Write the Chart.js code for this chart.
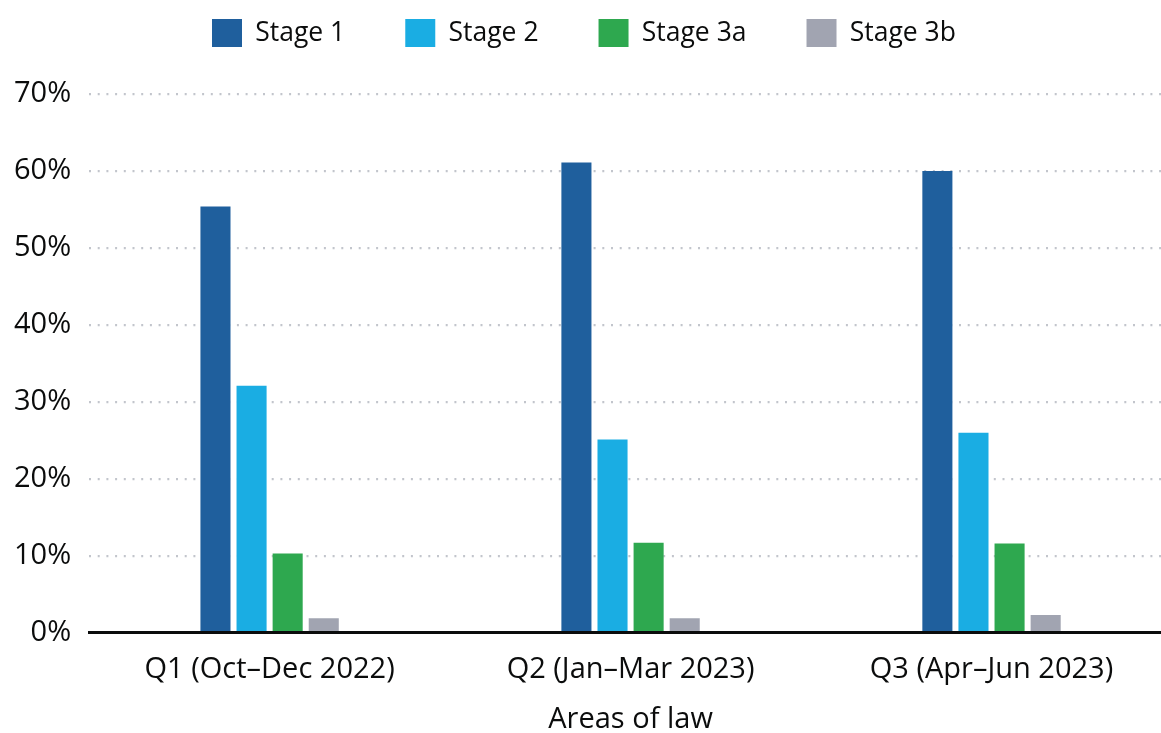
<!DOCTYPE html>
<html>
<head>
<meta charset="utf-8">
<script src="https://cdn.jsdelivr.net/npm/chart.js@4"></script>
<style>
  html, body { margin: 0; padding: 0; background: #ffffff; overflow: hidden; }
  #wrap { width: 1175px; height: 733px; position: relative; }
</style>
</head>
<body>
<div id="wrap"><canvas id="chart"></canvas></div>
<script>
// Quarters shown on the x axis
const quarters = ['Q1 (Oct–Dec 2022)', 'Q2 (Jan–Mar 2023)', 'Q3 (Apr–Jun 2023)'];

// Share of cases at each stage, per quarter (%)
const stage1 = [55.4, 61.1, 60.0];
const stage2 = [32.1, 25.1, 26.0];
const stage3a = [10.3, 11.7, 11.6];
const stage3b = [1.9, 1.9, 2.3];

const seriesNames = ['Stage 1', 'Stage 2', 'Stage 3a', 'Stage 3b'];
const seriesColors = ['#1f5f9d', '#1aade3', '#2ea84f', '#a1a4b1'];

const yTicks = [0, 10, 20, 30, 40, 50, 60, 70];
const xTitle = 'Areas of law';

const FONT = "'Open Sans', 'Noto Sans', sans-serif";
const INK = '#0b0c0c';

const values = [stage1, stage2, stage3a, stage3b];

new Chart(document.getElementById('chart'), {
  type: 'bar',
  data: {
    labels: quarters,
    datasets: values.map((v, i) => ({
      label: seriesNames[i],
      data: v,
      backgroundColor: seriesColors[i],
      borderWidth: 0,
      categoryPercentage: 0.4,
      barPercentage: 0.833
    }))
  },
  options: {
    responsive: true,
    maintainAspectRatio: false,
    animation: false,
    layout: { padding: { top: -41, left: -4, right: 3, bottom: 0 } },
    plugins: {
      tooltip: { enabled: false },
      legend: {
        position: 'top',
        labels: {
          font: { family: FONT, size: 26.5 },
          color: INK,
          boxWidth: 30,
          boxHeight: 28,
          padding: 60
        }
      },
      // empty spacer between the legend and the plotting area
      title: {
        display: true,
        text: '',
        weight: 500,
        font: { size: 10, lineHeight: 1 },
        padding: { top: 27, bottom: 0 }
      }
    },
    scales: {
      x: {
        grid: { display: false, drawTicks: false },
        border: { display: true, color: INK, width: 3, z: 1 },
        ticks: {
          font: { family: FONT, size: 29 },
          color: INK,
          padding: 20,
          maxRotation: 0
        },
        title: {
          display: true,
          text: xTitle,
          font: { family: FONT, size: 29 },
          color: INK,
          padding: { top: -5.4, bottom: -4 }
        }
      },
      y: {
        min: 0,
        max: 70,
        afterBuildTicks: (scale) => { scale.ticks = yTicks.map(v => ({ value: v })); },
        border: { display: false, dash: [2, 6.7] },
        grid: {
          drawTicks: false,
          color: (c) => (c.tick && c.tick.value === 0) ? 'rgba(0,0,0,0)' : '#c2c5cc',
          lineWidth: 2.2
        },
        ticks: {
          font: { family: FONT, size: 29 },
          color: INK,
          padding: 18,
          callback: (v) => v + '%'
        }
      }
    }
  }
});
</script>
</body>
</html>
